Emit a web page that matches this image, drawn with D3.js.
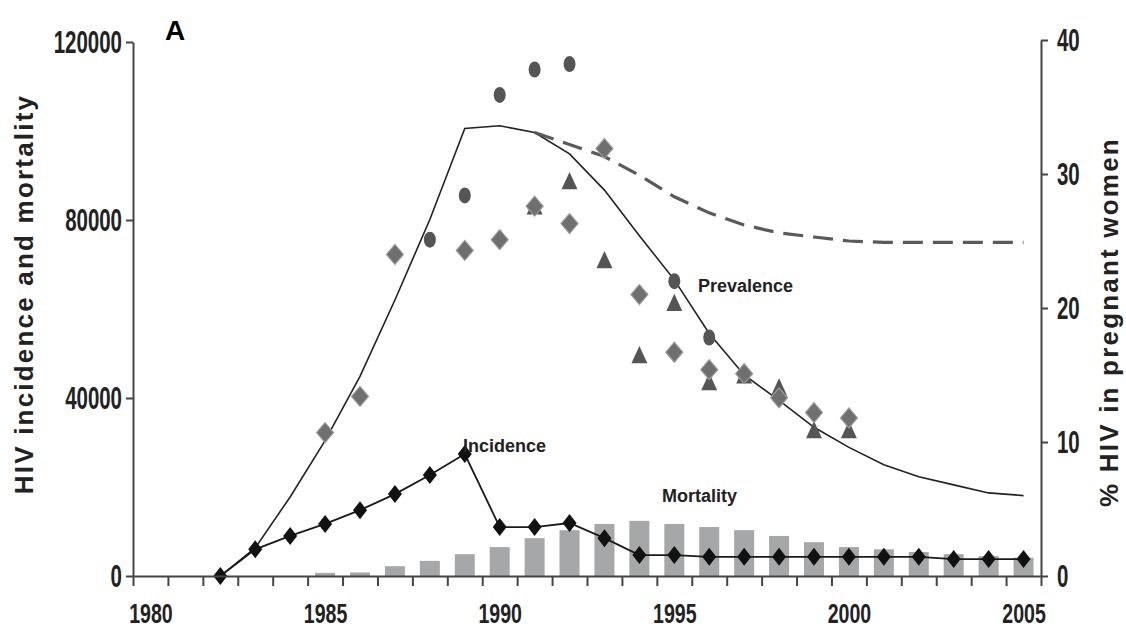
<!DOCTYPE html>
<html lang="en">
<head>
    <meta charset="UTF-8">
    <title>HIV incidence, mortality and prevalence</title>
    <script src="https://d3js.org/d3.v7.min.js"></script>
    <style>
        body{ margin:0; background:#fff; }
        .tick text{ font-family:"Liberation Sans",Arial,sans-serif; font-weight:bold; font-size:31px; fill:#222; }
        .xlab .tick text{ font-size:28px; }
        .lbl{ font-family:"Liberation Sans",Arial,sans-serif; font-weight:bold; font-size:18px; fill:#222; }
        .ttl{ font-family:"Liberation Sans",Arial,sans-serif; font-weight:bold; font-size:26px; letter-spacing:2.2px; fill:#222; }
    </style>
</head>
<body>
<svg id="main" width="1126" height="632"></svg>
<script>
    let svg = d3.select('svg#main');

    // model prevalence (% pregnant women), solid line
    let prevYears = d3.range(1982, 2006);
    let prevModel = [0, 2.1, 5.9, 10.1, 14.9, 20.6, 26.6, 33.4, 33.6, 33.1, 31.5, 28.8, 25.4, 22.1, 18.1, 15.0, 13.1, 11.1, 9.6, 8.3, 7.4, 6.8, 6.2, 6.0];
    // scenario without decline (dashed)
    let dashYears = d3.range(1991, 2006);
    let prevDashed = [33.1, 32.2, 31.3, 29.9, 28.3, 27.1, 26.2, 25.6, 25.3, 25.0, 24.9, 24.9, 24.9, 24.9, 24.9];
    // incidence (left axis)
    let incYears = d3.range(1982, 2006);
    let incidence = [0, 6000, 9000, 11700, 14800, 18400, 22700, 27400, 11000, 11000, 11900, 8500, 4700, 4700, 4300, 4300, 4300, 4300, 4300, 4300, 4300, 3800, 3800, 3800];
    // mortality bars (left axis)
    let mortYears = d3.range(1985, 2006);
    let mortality = [700, 800, 2200, 3400, 4900, 6500, 8500, 10300, 11700, 12400, 11700, 11000, 10300, 9000, 7600, 6500, 6000, 5400, 4900, 4500, 4100];
    // observed prevalence points
    let circleYears = [1988, 1989, 1990, 1991, 1992, 1995, 1996];
    let circleVals = [25.1, 28.4, 35.9, 37.8, 38.2, 22.0, 17.8];
    let diamondYears = [1985, 1986, 1987, 1989, 1990, 1991, 1992, 1993, 1994, 1995, 1996, 1997, 1998, 1999, 2000];
    let diamondVals = [10.7, 13.4, 24.0, 24.3, 25.1, 27.6, 26.3, 31.9, 21.0, 16.7, 15.4, 15.1, 13.3, 12.2, 11.8];
    let triYears = [1991, 1992, 1993, 1994, 1995, 1996, 1997, 1998, 1999, 2000];
    let triVals = [27.4, 29.3, 23.4, 16.3, 20.2, 14.3, 14.8, 13.9, 10.7, 10.7];

    let leftTicks = [0, 40000, 80000, 120000];
    let rightTicks = [0, 10, 20, 30, 40];
    let yearLabels = [1980, 1985, 1990, 1995, 2000, 2005];

    let x = d3.scaleLinear().domain([1979.5, 2005.5]).range([133, 1041]);
    let yL = d3.scaleLinear().domain([0, 120000]).range([576, 42]);
    let yR = d3.scaleLinear().domain([0, 40]).range([576, 40]);

    // bars
    svg.append('g').selectAll('rect')
        .data(mortYears.map((d, i) => [d, mortality[i]]))
        .join('rect')
        .attr('x', d => x(d[0]) - 10)
        .attr('width', 20)
        .attr('y', d => yL(d[1]))
        .attr('height', d => yL(0) - yL(d[1]))
        .attr('fill', '#a6a7a9');

    // prevalence model line
    let lineR = d3.line().x(d => x(d[0])).y(d => yR(d[1]));
    svg.append('path')
        .datum(prevYears.map((d, i) => [d, prevModel[i]]))
        .attr('d', lineR)
        .attr('fill', 'none').attr('stroke', '#222').attr('stroke-width', 1.6);
    svg.append('path')
        .datum(dashYears.map((d, i) => [d, prevDashed[i]]))
        .attr('d', lineR)
        .attr('fill', 'none').attr('stroke', '#5a5a5a').attr('stroke-width', 3.2)
        .attr('stroke-dasharray', '20,10');

    // observed prevalence markers
    svg.append('g').selectAll('path')
        .data(triYears.map((d, i) => [d, triVals[i]]))
        .join('path')
        .attr('d', d3.symbol(d3.symbolTriangle, 110))
        .attr('transform', d => `translate(${x(d[0])},${yR(d[1])}) scale(1,1.25)`)
        .attr('fill', '#555');
    svg.append('g').selectAll('path')
        .data(diamondYears.map((d, i) => [d, diamondVals[i]]))
        .join('path')
        .attr('d', 'M0,-10L8.5,0L0,10L-8.5,0Z')
        .attr('transform', d => `translate(${x(d[0])},${yR(d[1])})`)
        .attr('fill', '#6f6f6f').attr('stroke', '#9a9a9a').attr('stroke-width', 1.2);
    svg.append('g').selectAll('ellipse')
        .data(circleYears.map((d, i) => [d, circleVals[i]]))
        .join('ellipse')
        .attr('cx', d => x(d[0])).attr('cy', d => yR(d[1]))
        .attr('rx', 6).attr('ry', 8)
        .attr('fill', '#555');

    // incidence line + black diamonds
    let incData = incYears.map((d, i) => [d, incidence[i]]);
    svg.append('path')
        .datum(incData)
        .attr('d', d3.line().x(d => x(d[0])).y(d => yL(d[1])))
        .attr('fill', 'none').attr('stroke', '#1a1a1a').attr('stroke-width', 1.8);
    svg.append('g').selectAll('path')
        .data(incData)
        .join('path')
        .attr('d', 'M0,-9L7,0L0,9L-7,0Z')
        .attr('transform', d => `translate(${x(d[0])},${yL(d[1])})`)
        .attr('fill', '#111');

    // axes (condensed tick labels)
    svg.append('g').attr('transform', 'translate(0,576)')
        .call(d3.axisBottom(x).tickValues(d3.range(1979.5, 2006, 1)).tickFormat('').tickSize(10).tickSizeOuter(0));
    svg.append('g').attr('class', 'xlab').attr('transform', 'translate(0,576)')
        .call(d3.axisBottom(x).tickValues(yearLabels).tickFormat(d3.format('d')).tickSize(0))
        .call(g => g.select('.domain').remove())
        .call(g => g.selectAll('text').attr('y', 0).attr('dy', 0)
            .attr('transform', 'translate(0,47) scale(0.7,1)'));
    svg.append('g').attr('transform', 'translate(133,0)')
        .call(d3.axisLeft(yL).tickValues(leftTicks).tickFormat(d3.format('d')).tickSize(7).tickSizeOuter(0))
        .call(g => g.selectAll('text').attr('x', 0).attr('dy', '0.35em')
            .attr('transform', 'translate(-11,0) scale(0.66,1)'));
    svg.append('g').attr('transform', 'translate(1041,0)')
        .call(d3.axisRight(yR).tickValues(rightTicks).tickSize(7).tickSizeOuter(0))
        .call(g => g.selectAll('text').attr('x', 0).attr('dy', '0.35em')
            .attr('transform', 'translate(16,0) scale(0.66,1)'));
    svg.selectAll('.domain, .tick line').attr('stroke', '#444').attr('stroke-width', 2);

    // text labels
    svg.append('text').attr('x', 165).attr('y', 40)
        .style('font-family', '"Liberation Sans",Arial,sans-serif').style('font-weight', 'bold').style('font-size', '28px').text('A');
    svg.append('text').attr('class', 'lbl').attr('x', 698).attr('y', 292).text('Prevalence');
    svg.append('text').attr('class', 'lbl').attr('x', 463).attr('y', 452).text('Incidence');
    svg.append('text').attr('class', 'lbl').attr('x', 662).attr('y', 502).text('Mortality');
    svg.append('text').attr('class', 'ttl')
        .attr('transform', 'translate(33,294) rotate(-90)').attr('text-anchor', 'middle')
        .text('HIV incidence and mortality');
    svg.append('text').attr('class', 'ttl')
        .attr('transform', 'translate(1118,322) rotate(-90)').attr('text-anchor', 'middle')
        .text('% HIV in pregnant women');
</script>
</body>
</html>
